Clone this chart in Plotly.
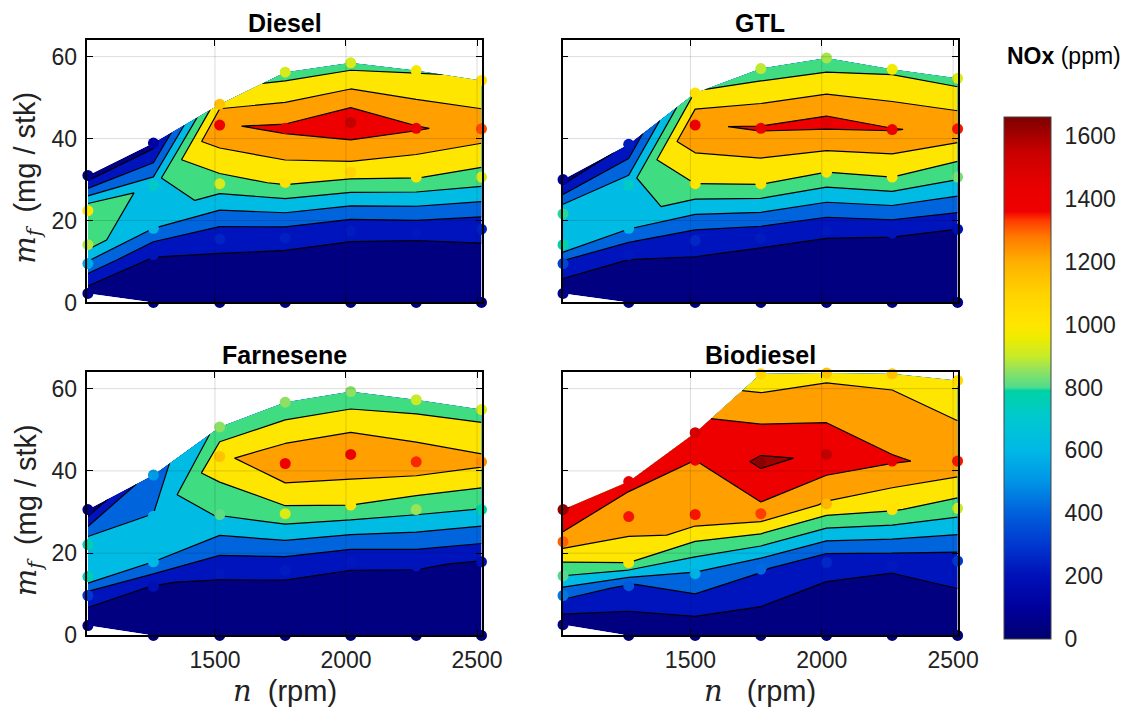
import plotly.graph_objects as go

# Engine speed of each measurement column (rpm) and load step index (rows)
speeds = [1015, 1265, 1518, 1768, 2018, 2268, 2517]
load_steps = [0, 1, 2, 3, 4]

# Fuel mass per stroke (mg/stk), one row per load step, one column per speed
diesel_mf = [
    [2.2, 0.0, 0.0, 0.0, 0.0, 0.0, 0.0],
    [9.5, 11.7, 15.5, 15.7, 17.5, 16.9, 17.9],
    [14.1, 18.1, 29.0, 29.3, 31.8, 30.6, 30.6],
    [22.4, 28.6, 43.3, 42.5, 43.9, 42.5, 42.4],
    [31.0, 38.9, 48.4, 56.2, 58.5, 56.6, 54.2],
]
diesel_nox = [
    [80, 30, 30, 30, 30, 30, 30],
    [560, 210, 250, 240, 230, 220, 240],
    [880, 600, 920, 1030, 1100, 1010, 920],
    [990, 720, 1380, 1440, 1560, 1420, 1320],
    [60, 120, 1150, 920, 920, 980, 1030],
]

gtl_mf = [
    [2.2, 0.0, 0.0, 0.0, 0.0, 0.0, 0.0],
    [9.5, 11.7, 15.1, 15.7, 17.5, 16.9, 17.9],
    [14.1, 18.1, 29.0, 29.0, 31.8, 30.6, 30.6],
    [21.6, 28.6, 43.3, 42.5, 43.9, 42.2, 42.4],
    [30.0, 38.6, 51.1, 57.1, 59.7, 56.9, 54.7],
]
gtl_nox = [
    [70, 30, 30, 30, 30, 30, 30],
    [330, 220, 260, 230, 220, 210, 200],
    [780, 610, 1000, 1010, 1000, 1000, 830],
    [795, 720, 1380, 1420, 1460, 1410, 1350],
    [100, 230, 1020, 890, 870, 960, 930],
]

farnesene_mf = [
    [2.4, 0.0, 0.0, 0.0, 0.0, 0.0, 0.0],
    [9.7, 11.9, 15.1, 15.8, 17.7, 16.9, 17.9],
    [14.3, 17.9, 29.4, 29.6, 31.7, 30.6, 30.6],
    [22.1, 29.0, 43.5, 41.8, 44.0, 42.2, 42.2],
    [30.6, 39.0, 50.7, 56.7, 59.3, 57.3, 54.9],
]
farnesene_nox = [
    [50, 30, 30, 30, 30, 30, 30],
    [300, 190, 220, 230, 220, 210, 190],
    [760, 600, 810, 930, 1000, 860, 790],
    [760, 605, 1150, 1370, 1390, 1340, 1250],
    [60, 520, 850, 850, 850, 900, 920],
]

biodiesel_mf = [
    [2.6, 0.0, 0.0, 0.0, 0.0, 0.0, 0.0],
    [9.7, 12.1, 15.0, 16.1, 17.7, 16.9, 18.1],
    [14.5, 17.7, 29.4, 29.6, 32.0, 30.6, 30.9],
    [22.8, 28.9, 42.6, 42.2, 44.0, 42.4, 42.4],
    [30.6, 37.4, 49.3, 63.6, 63.8, 63.6, 62.0],
]
biodiesel_nox = [
    [60, 30, 30, 30, 30, 30, 30],
    [450, 380, 580, 420, 260, 220, 300],
    [800, 1000, 1350, 1330, 1180, 1020, 900],
    [1300, 1350, 1400, 1640, 1560, 1420, 1350],
    [1620, 1420, 1500, 1080, 1150, 1150, 1050],
]

fuels = ["Diesel", "GTL", "Farnesene", "Biodiesel"]
mf_data = [diesel_mf, gtl_mf, farnesene_mf, biodiesel_mf]
nox_data = [diesel_nox, gtl_nox, farnesene_nox, biodiesel_nox]

# Contour levels and colorbar ticks (ppm)
level_start, level_end, level_step = 200, 1600, 200
nox_max = 1660
cbar_ticks = [0, 200, 400, 600, 800, 1000, 1200, 1400, 1600]
x_ticks = [1500, 2000, 2500]
y_ticks = [0, 20, 40, 60]
x_range = [1013, 2519]
y_range = [0, 64]

# One flat colour per filled band (below 200 ... above 1600)
band_colors = ["#000080", "#0014BE", "#0064DC", "#00BCE4", "#40DC82",
               "#FFE600", "#FFA000", "#EE0000", "#A00000"]
n_bands = len(band_colors)
band_scale = [[i / (n_bands - 1), c] for i, c in enumerate(band_colors)]

# Continuous map used for the measured points and the colorbar
point_stops = [
    (0, "#000070"), (100, "#00009C"), (200, "#0010B8"), (300, "#0038D0"),
    (400, "#0060DC"), (500, "#0094E6"), (600, "#00B8E6"), (700, "#00C8D0"),
    (790, "#00D2A4"), (800, "#50DC8C"), (850, "#8CE164"), (900, "#C8EB28"),
    (960, "#F0EB00"), (1000, "#FFE600"), (1100, "#FFD200"), (1200, "#FFAF00"),
    (1280, "#FF7800"), (1330, "#FF3C00"), (1360, "#F00000"), (1450, "#E60000"),
    (1550, "#C80000"), (1660, "#7D0000"),
]
point_scale = [[v / nox_max, c] for v, c in point_stops]

W, H = 1146, 725
# panel boxes in pixels: left, right, top, bottom
boxes = [(89, 491, 41, 308), (573, 976, 41, 308),
         (89, 491, 379, 647), (573, 976, 379, 647)]

font_sans = "Liberation Sans, Arial, Helvetica, sans-serif"
fig = go.Figure()
layout_axes = {}
shapes = []
annotations = []

for k, (fuel, mf, nox, box) in enumerate(zip(fuels, mf_data, nox_data, boxes)):
    sfx = "" if k == 0 else str(k + 1)
    xa, ya = "x" + sfx, "y" + sfx
    left, right, top, bottom = box
    cid = fuel.lower()

    fig.add_trace(go.Carpet(
        carpet=cid, a=speeds, b=load_steps,
        x=[speeds for _ in load_steps], y=mf,
        xaxis=xa, yaxis=ya,
        aaxis=dict(smoothing=0, showgrid=False, showline=False, startline=False,
                   endline=False, showticklabels="none", minorgridcount=0),
        baxis=dict(smoothing=0, showgrid=False, showline=False, startline=False,
                   endline=False, showticklabels="none", minorgridcount=0),
    ))
    fig.add_trace(go.Contourcarpet(
        carpet=cid, a=speeds, b=load_steps, z=nox,
        xaxis=xa, yaxis=ya,
        autocontour=False,
        contours=dict(start=level_start, end=level_end, size=level_step,
                      coloring="fill", showlines=True),
        line=dict(color="black", width=1.2, smoothing=0),
        colorscale=band_scale, showscale=False,
    ))
    flat_x = [s for row in mf for s in speeds]
    flat_y = [v for row in mf for v in row]
    flat_c = [v for row in nox for v in row]
    fig.add_trace(go.Scatter(
        x=flat_x, y=flat_y, mode="markers", xaxis=xa, yaxis=ya,
        cliponaxis=False, showlegend=False, hoverinfo="skip",
        marker=dict(size=11, color=flat_c, colorscale=point_scale, cmin=0, cmax=nox_max,
                    line=dict(width=0), showscale=(k == 0),
                    colorbar=dict(
                        x=1023 / W, xanchor="left", xpad=0,
                        y=1 - (119 + 651) / 2 / H, yanchor="middle", ypad=0,
                        len=(651 - 119) / H, lenmode="fraction",
                        thickness=47, thicknessmode="pixels",
                        outlinewidth=1, outlinecolor="#444",
                        tickmode="array", tickvals=cbar_ticks,
                        ticks="outside", ticklen=9, tickcolor="rgba(0,0,0,0)",
                        tickfont=dict(family=font_sans, size=23, color="#222"),
                    )),
    ))

    bottom_row = k >= 2
    left_col = k % 2 == 0
    layout_axes["xaxis" + sfx] = dict(
        domain=[left / W, right / W], anchor=ya, range=x_range,
        showline=True, linecolor="black", linewidth=1.5, mirror="ticks",
        ticks="inside", ticklen=6, tickcolor="black", tickwidth=1,
        tickmode="array", tickvals=x_ticks, showticklabels=bottom_row,
        ticklabelstandoff=3,
        showgrid=False, zeroline=False,
        tickfont=dict(family=font_sans, size=23, color="#222"),
    )
    layout_axes["yaxis" + sfx] = dict(
        domain=[1 - bottom / H, 1 - top / H], anchor=xa, range=y_range,
        showline=True, linecolor="black", linewidth=1.5, mirror="ticks",
        ticks="inside", ticklen=6, tickcolor="black", tickwidth=1,
        tickmode="array", tickvals=y_ticks, showticklabels=left_col,
        ticklabelstandoff=4,
        showgrid=False, zeroline=False,
        tickfont=dict(family=font_sans, size=23, color="#222"),
    )

    # light grid drawn over the filled contours
    for xv in x_ticks:
        shapes.append(dict(type="line", xref=xa, yref=ya + " domain", x0=xv, x1=xv,
                           y0=0, y1=1, layer="above",
                           line=dict(color="rgba(0,0,0,0.14)", width=1)))
    for yv in y_ticks[1:]:
        shapes.append(dict(type="line", xref=xa + " domain", yref=ya, x0=0, x1=1,
                           y0=yv, y1=yv, layer="above",
                           line=dict(color="rgba(0,0,0,0.14)", width=1)))

    annotations.append(dict(
        text="<b>%s</b>" % fuel, xref="paper", yref="paper",
        x=(left + right) / 2 / W, y=1 - (top - 18) / H,
        xanchor="center", yanchor="middle", showarrow=False,
        font=dict(family=font_sans, size=25, color="black"),
    ))
    if left_col:
        annotations.append(dict(
            text=('<span style="font-family:\'DejaVu Serif\',serif"><i>m</i>'
                  '<sub><i>f</i></sub></span>  (mg / stk)'),
            xref="paper", yref="paper", x=28 / W, y=1 - ((top + bottom) / 2 + 6) / H,
            xanchor="center", yanchor="middle", textangle=-90, showarrow=False,
            font=dict(family=font_sans, size=29, color="#222"),
        ))
    if bottom_row:
        gap = "  " if k == 2 else "   "
        annotations.append(dict(
            text='<span style="font-family:\'DejaVu Serif\',serif"><i>n</i></span>%s(rpm)' % gap,
            xref="paper", yref="paper", x=(left + right) / 2 / W, y=1 - 704 / H,
            xanchor="center", yanchor="middle", showarrow=False,
            font=dict(family=font_sans, size=29, color="#222"),
        ))

annotations.append(dict(
    text="<b>NOx</b> (ppm)", xref="paper", yref="paper",
    x=1024 / W, y=1 - 57 / H, xanchor="left", yanchor="middle", showarrow=False,
    font=dict(family=font_sans, size=23, color="black"),
))

fig.update_layout(
    width=W, height=H, margin=dict(l=0, r=0, t=0, b=0),
    paper_bgcolor="white", plot_bgcolor="white",
    showlegend=False, shapes=shapes, annotations=annotations,
    **layout_axes,
)

fig.write_html("out.html")
